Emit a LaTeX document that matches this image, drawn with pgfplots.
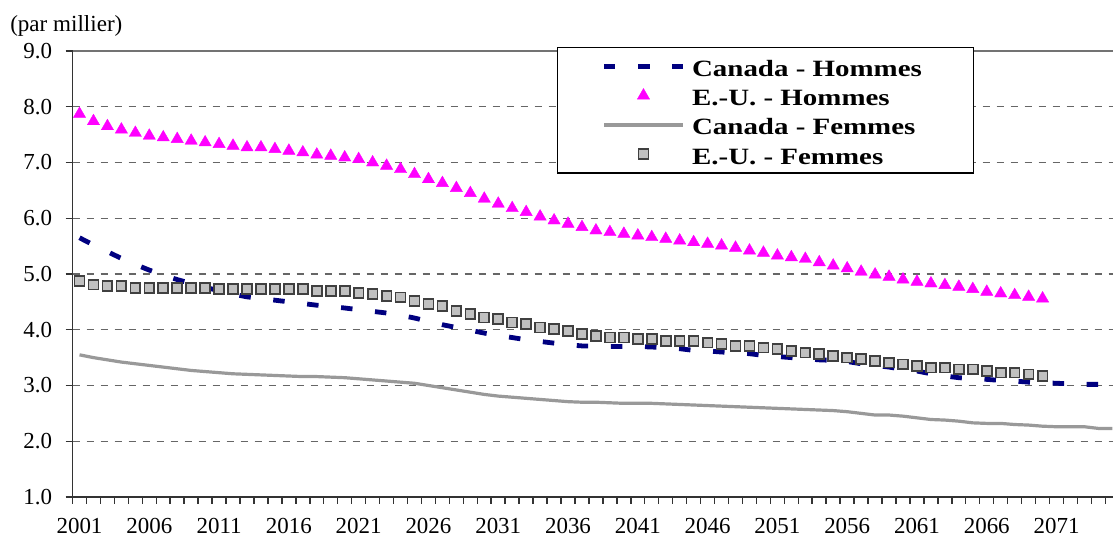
\documentclass[border=0pt]{standalone}
\usepackage{pgfplots}
\usepackage{pgfplotstable}
\pgfplotsset{compat=1.18}
\usepackage{fontspec}
\setmainfont{Liberation Serif}
\newfontfamily\legfont[FakeStretch=1.24]{Liberation Serif}
\definecolor{navyc}{HTML}{000080}
\definecolor{magc}{HTML}{FF00FF}
\definecolor{sqfill}{HTML}{C0C0C0}
\definecolor{sqdraw}{HTML}{404040}
\definecolor{femc}{HTML}{999999}
\pgfplotstableread{
year chm euh cf euf
2001 5.65 7.87 3.55 4.87
2002 5.52 7.74 3.50 4.81
2003 5.40 7.65 3.46 4.79
2004 5.28 7.59 3.42 4.79
2005 5.17 7.53 3.39 4.75
2006 5.07 7.48 3.36 4.75
2007 4.98 7.45 3.33 4.75
2008 4.90 7.42 3.30 4.75
2009 4.83 7.39 3.27 4.75
2010 4.76 7.36 3.25 4.75
2011 4.70 7.33 3.23 4.73
2012 4.64 7.30 3.21 4.73
2013 4.59 7.27 3.20 4.73
2014 4.56 7.27 3.19 4.73
2015 4.53 7.24 3.18 4.73
2016 4.50 7.21 3.17 4.73
2017 4.47 7.18 3.16 4.73
2018 4.44 7.14 3.16 4.69
2019 4.42 7.12 3.15 4.69
2020 4.39 7.09 3.14 4.69
2021 4.36 7.06 3.12 4.66
2022 4.33 7.00 3.10 4.64
2023 4.30 6.94 3.08 4.61
2024 4.26 6.88 3.06 4.58
2025 4.21 6.79 3.04 4.52
2026 4.15 6.70 3.00 4.46
2027 4.09 6.63 2.96 4.43
2028 4.04 6.54 2.92 4.34
2029 3.99 6.45 2.88 4.28
2030 3.94 6.35 2.84 4.22
2031 3.90 6.26 2.81 4.19
2032 3.86 6.18 2.79 4.13
2033 3.82 6.11 2.77 4.10
2034 3.79 6.03 2.75 4.04
2035 3.76 5.96 2.73 4.01
2036 3.73 5.90 2.71 3.98
2037 3.71 5.84 2.70 3.92
2038 3.71 5.78 2.70 3.89
2039 3.70 5.75 2.69 3.86
2040 3.70 5.72 2.68 3.86
2041 3.70 5.69 2.68 3.83
2042 3.69 5.66 2.68 3.83
2043 3.68 5.63 2.67 3.80
2044 3.66 5.60 2.66 3.80
2045 3.63 5.57 2.65 3.80
2046 3.62 5.54 2.64 3.77
2047 3.60 5.51 2.63 3.74
2048 3.59 5.47 2.62 3.71
2049 3.57 5.42 2.61 3.71
2050 3.54 5.38 2.60 3.68
2051 3.52 5.33 2.59 3.65
2052 3.50 5.30 2.58 3.62
2053 3.48 5.27 2.57 3.59
2054 3.46 5.21 2.56 3.56
2055 3.45 5.15 2.55 3.53
2056 3.43 5.10 2.53 3.50
2057 3.39 5.04 2.50 3.47
2058 3.36 4.99 2.47 3.44
2059 3.33 4.95 2.47 3.41
2060 3.29 4.90 2.45 3.38
2061 3.26 4.86 2.42 3.35
2062 3.21 4.83 2.39 3.32
2063 3.17 4.80 2.38 3.32
2064 3.14 4.77 2.36 3.29
2065 3.12 4.73 2.33 3.29
2066 3.11 4.68 2.32 3.26
2067 3.09 4.65 2.32 3.23
2068 3.08 4.62 2.30 3.23
2069 3.06 4.59 2.29 3.20
2070 3.05 4.56 2.27 3.17
2071 3.04 nan 2.26 nan
2072 3.03 nan 2.26 nan
2073 3.02 nan 2.26 nan
2074 3.02 nan 2.23 nan
2075 3.01 nan 2.23 nan
}\datatab
\begin{document}
\begin{tikzpicture}
\useasboundingbox (0,0) rectangle (834.75pt,403.5pt);
\node[anchor=base west, inner sep=0pt, font=\fontsize{17.3}{20}\selectfont] at (7.5pt,379.5pt) {(par millier)};
\begin{axis}[
  at={(54.4pt,30.75pt)}, anchor=south west,
  scale only axis, width=780.4pt, height=334.5pt,
  xmin=2000.5, xmax=2075.05, ymin=1, ymax=9,
  axis x line*=bottom, axis y line*=left,
  axis line style={black!80, line width=1.1pt, -},
  /pgf/number format/assume math mode=true,
  /pgf/number format/1000 sep={},
  tick align=outside,
  ytick={1,2,3,4,5,6,7,8},
  yticklabels={1.0,2.0,3.0,4.0,5.0,6.0,7.0,8.0},
  extra y ticks={9}, extra y tick labels={9.0},
  extra y tick style={grid=major, major grid style={solid, black!55, line width=1.1pt}},
  ymajorgrids,
  major grid style={dash pattern=on 5.5pt off 5pt, black!60, line width=0.9pt},
  major tick length=5.25pt,
  y tick style={black!80, line width=1.1pt},
  xtick={2000.5,2001.5,...,2074.5}, xticklabels={},
  x tick style={black!80, line width=1.1pt},
  extra x ticks={2001,2006,...,2071},
  extra x tick style={major tick length=0pt, grid=none},
  extra x tick labels={2001,2006,2011,2016,2021,2026,2031,2036,2041,2046,2051,2056,2061,2066,2071},
  tick label style={font=\fontsize{17.2}{20}\selectfont},
  xticklabel style={yshift=-12.5pt},
  yticklabel style={xshift=-6.5pt},
  clip=false,
  legend cell align=left,
  legend image code/.code={\draw[mark repeat=2,mark phase=2,#1] plot coordinates {(0pt,0pt) (29.6pt,0pt) (59.25pt,0pt)};},
  legend style={at={(0.4656,1.009)}, anchor=north west, draw=black, line width=0.9pt,
    font=\legfont\bfseries\fontsize{17.5}{20}\selectfont,
    inner xsep=33pt, inner ysep=3pt, row sep=0pt,
    nodes={inner sep=2pt}},
]
\addplot[navyc, line width=3.6pt, dash pattern=on 8.6pt off 17pt] table[x=year,y=chm] {\datatab};
\addlegendentry{\makebox[179pt][l]{\hspace{3pt}\rule[-5.5pt]{0pt}{22pt}Canada - Hommes}}
\addplot[only marks, mark=triangle*, mark size=5.3pt, mark options={fill=magc, draw=magc, line width=0.3pt}] table[x=year,y=euh] {\datatab};
\addlegendentry{\hspace{3pt}\rule[-5.5pt]{0pt}{22pt}E.-U. - Hommes}
\addplot[femc, line width=2.4pt] table[x=year,y=cf] {\datatab};
\addlegendentry{\hspace{3pt}\rule[-5.5pt]{0pt}{22pt}Canada - Femmes}
\addplot[only marks, mark=square*, mark size=3.7pt, mark options={fill=sqfill, draw=sqdraw, line width=1.3pt}] table[x=year,y=euf] {\datatab};
\addlegendentry{\hspace{3pt}\rule[-5.5pt]{0pt}{22pt}E.-U. - Femmes}
\end{axis}
\end{tikzpicture}
\end{document}
